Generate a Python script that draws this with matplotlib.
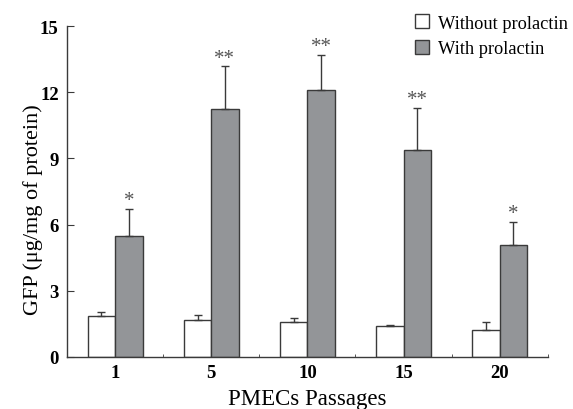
import numpy as np
import matplotlib
matplotlib.use('Agg')
import matplotlib.pyplot as plt

plt.rcParams['font.family'] = ['Liberation Serif', 'DejaVu Serif']

# 数据
passages = ['1', '5', '10', '15', '20']
without_prl = [1.86, 1.68, 1.59, 1.39, 1.22]
without_err = [0.16, 0.24, 0.19, 0.06, 0.37]
with_prl = [5.47, 11.24, 12.10, 9.38, 5.07]
with_err = [1.24, 1.93, 1.58, 1.89, 1.05]
marks = ['*', '**', '**', '**', '*']

x = np.arange(len(passages))
w = 0.285

fig = plt.figure(figsize=(5.73, 4.10), dpi=100)
ax = fig.add_axes([0.117, 0.127, 0.839, 0.807])

edge = '#3a3a3a'
ax.bar(x - w / 2, without_prl, w, color='white', edgecolor=edge, linewidth=1.0,
       yerr=[np.zeros(len(x)), without_err], error_kw=dict(ecolor=edge, elinewidth=1.0, capsize=3, capthick=1.0),
       label='Without prolactin')
ax.bar(x + w / 2, with_prl, w, color='#939598', edgecolor=edge, linewidth=1.0,
       yerr=[np.zeros(len(x)), with_err], error_kw=dict(ecolor=edge, elinewidth=1.0, capsize=3, capthick=1.0),
       label='With prolactin')

# 显著性星号
for xi, v, e, m in zip(x, with_prl, with_err, marks):
    ax.text(xi + w / 2, v + e - 0.05, m, ha='center', va='bottom', fontsize=15, color='#555555')

ax.set_xlim(-0.5, 4.5)
ax.set_ylim(0, 15)
ax.set_yticks([0, 3, 6, 9, 12, 15])
ax.set_xticks(x)
ax.set_xticklabels(passages)
ax.set_xticks([0.5, 1.5, 2.5, 3.5, 4.5], minor=True)
ax.tick_params(axis='x', which='major', length=0, pad=5, labelsize=13.5)
ax.tick_params(axis='x', which='minor', direction='in', length=2, color=edge)
ax.tick_params(axis='y', direction='in', length=5, color=edge, labelsize=13.5, pad=6)
for lab in ax.get_xticklabels() + ax.get_yticklabels():
    lab.set_fontweight('bold')

for s in ['top', 'right']:
    ax.spines[s].set_visible(False)
for s in ['left', 'bottom']:
    ax.spines[s].set_color(edge)
    ax.spines[s].set_linewidth(1.0)

ax.set_ylabel('GFP (μg/mg of protein)', fontsize=16)
ax.yaxis.set_label_coords(-0.05, 0.447)
ax.set_xlabel('PMECs Passages', fontsize=16.5)
ax.xaxis.set_label_coords(0.5, -0.095)

ax.legend(loc='upper left', bbox_to_anchor=(0.695, 1.003), bbox_transform=fig.transFigure,
          frameon=False, fontsize=13.2, handlelength=0.8, handleheight=0.8,
          handletextpad=0.45, labelspacing=0.45)

fig.savefig('out.png', dpi=100)
